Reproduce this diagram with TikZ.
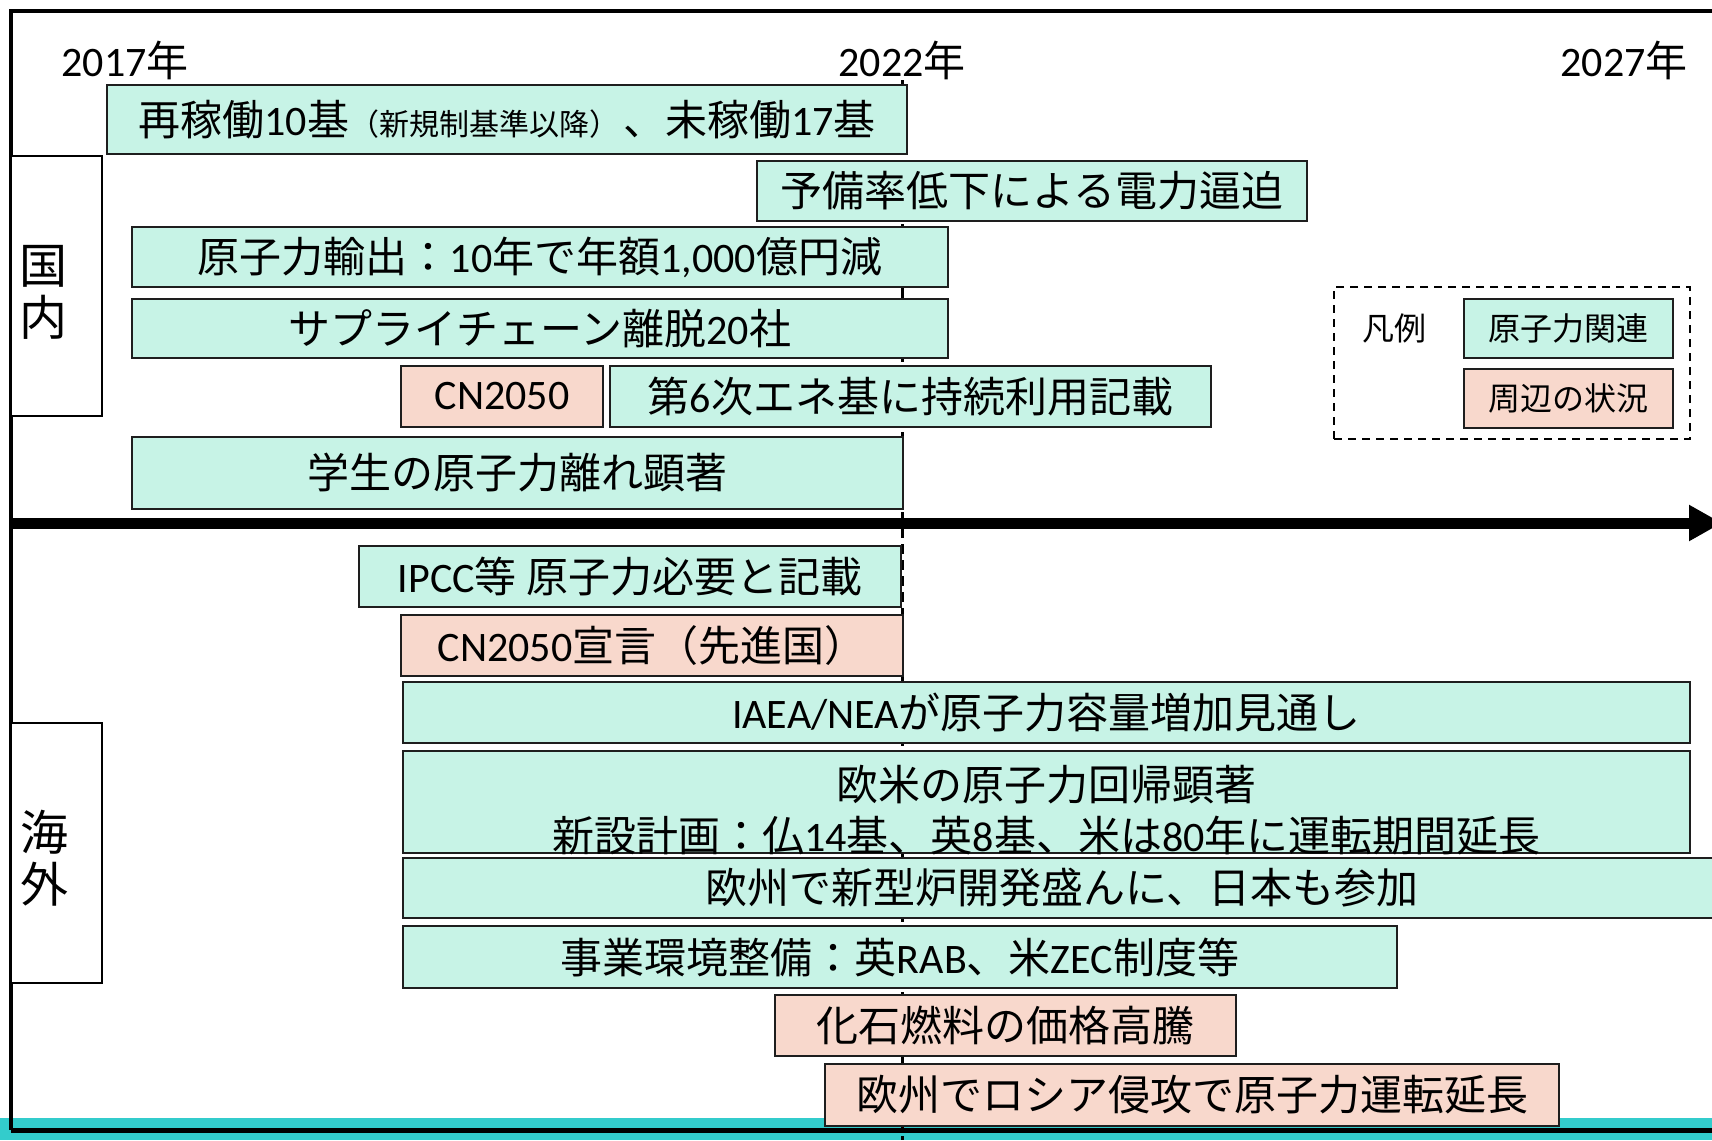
\documentclass[tikz,border=0pt]{standalone}
\usepackage{fontspec}
\setmainfont{Noto Sans CJK JP}
\newfontfamily\latfont{Carlito}
\newcommand\latn[1]{{\latfont #1}}
\usetikzlibrary{arrows.meta}
\definecolor{mint}{RGB}{199,243,230}
\definecolor{peach}{RGB}{248,216,204}
\definecolor{tealband}{RGB}{51,204,204}
\definecolor{edge}{RGB}{30,30,30}
\tikzset{
 ev/.style={draw=edge, line width=0.8pt, fill=mint, inner sep=0pt, font=\fontsize{21}{25.5}\selectfont, align=center},
 pk/.style={ev, fill=peach},
 lgev/.style={ev, font=\fontsize{16}{19}\selectfont},
 lgpk/.style={pk, font=\fontsize{16}{19}\selectfont},
 catbox/.style={draw=black, line width=1pt, fill=white, inner sep=0pt},
 cattxt/.style={inner sep=0pt, font=\fontsize{24}{26}\selectfont, align=center},
 yr/.style={inner sep=0pt, font=\fontsize{21}{25}\selectfont},
 legbox/.style={draw=black, line width=1pt, dash pattern=on 4pt off 3pt, inner sep=0pt},
}
\newcommand\bx[7]{\node[#6, minimum width={0.5pt*(#4-#2)}, minimum height={0.5pt*(#5-#3)}] (#1) at ({(#2+#4)/2},{(#3+#5)/2}) {#7};}
\begin{document}
\begin{tikzpicture}[x=0.5pt,y=-0.5pt]
\useasboundingbox (0,0) rectangle (1712,1140);
% bottom band
\fill[tealband] (0,1118) rectangle (1712,1140);
% frame
\coordinate (fTR) at (1712,11);
\coordinate (fTL) at (11,11);
\coordinate (fBL) at (11,1130);
\coordinate (fBR) at (1712,1130);
\draw[line width=2pt] (fTR) -- (fTL) -- (fBL);
\draw[line width=2.5pt] (fBL) -- (fBR);
% 2022 dashed line
\coordinate (d1) at (902,80);
\coordinate (d2) at (902,1140);
\draw[line width=1.5pt, dash pattern=on 5pt off 3pt] (d1) -- (d2);
% time axis
\coordinate (ax1) at (11,523);
\coordinate (ax2) at (1722,523);
\draw[line width=5.5pt, -{Triangle[length=16.5pt,width=17pt]}] (ax1) -- (ax2);
% years
\node[yr] (y17) at (125,60) {\latn{2017}年};
\node[yr] (y22) at (902,60) {\latn{2022}年};
\node[yr] (y27) at (1624,60) {\latn{2027}年};
% categories
\bx{kn}{11}{156}{102}{416}{catbox}{}
\node[cattxt] (knt) at (43,292) {国\\内};
\bx{kg}{11}{723}{102}{983}{catbox}{}
\node[cattxt] (kgt) at (44,858) {海\\外};
% domestic
\bx{b1}{107}{85}{907}{154}{ev}{再稼働\latn{10}基{\fontsize{15}{17}\selectfont（新規制基準以降）}\hspace{2pt}、未稼働\latn{17}基}
\bx{b2}{757}{161}{1307}{221}{ev}{予備率低下による電力逼迫}
\bx{b3}{132}{227}{948}{287}{ev}{原子力輸出：\latn{10}年で年額\latn{1,000}億円減}
\bx{b4}{132}{299}{948}{358}{ev}{サプライチェーン離脱\latn{20}社}
\bx{b5}{401}{366}{603}{427}{pk}{\latn{CN2050}}
\bx{b6}{610}{366}{1211}{427}{ev}{第\latn{6}次エネ基に持続利用記載}
\bx{b7}{132}{437}{903}{509}{ev}{学生の原子力離れ顕著}
% legend
\bx{leg}{1334}{287}{1690}{439}{legbox}{}
\node[inner sep=0pt, font=\fontsize{16}{19}\selectfont] (legt) at (1394,328) {凡例};
\bx{lg1}{1464}{299}{1673}{358}{lgev}{原子力関連}
\bx{lg2}{1464}{369}{1673}{428}{lgpk}{周辺の状況}
% overseas
\bx{c1}{359}{546}{901}{607}{ev}{\latn{IPCC}等\ 原子力必要と記載}
\bx{c2}{401}{615}{903}{676}{pk}{\latn{CN2050}宣言（先進国）}
\bx{c3}{403}{682}{1690}{743}{ev}{\latn{IAEA/NEA}が原子力容量増加見通し}
\bx{c4}{403}{751}{1690}{853}{ev}{\raisebox{-12.25pt}[0pt][0pt]{\begin{tabular}{@{}c@{}}欧米の原子力回帰顕著\\新設計画：仏\latn{14}基、英\latn{8}基、米は\latn{80}年に運転期間延長\end{tabular}}}
\bx{c5}{403}{858}{1721}{918}{ev}{欧州で新型炉開発盛んに、日本も参加}
\bx{c6}{403}{926}{1397}{988}{ev}{事業環境整備：英\latn{RAB}、米\latn{ZEC}制度等}
\bx{c7}{775}{995}{1236}{1056}{pk}{化石燃料の価格高騰}
\bx{c8}{825}{1064}{1559}{1126}{pk}{欧州でロシア侵攻で原子力運転延長}
\end{tikzpicture}
\end{document}
